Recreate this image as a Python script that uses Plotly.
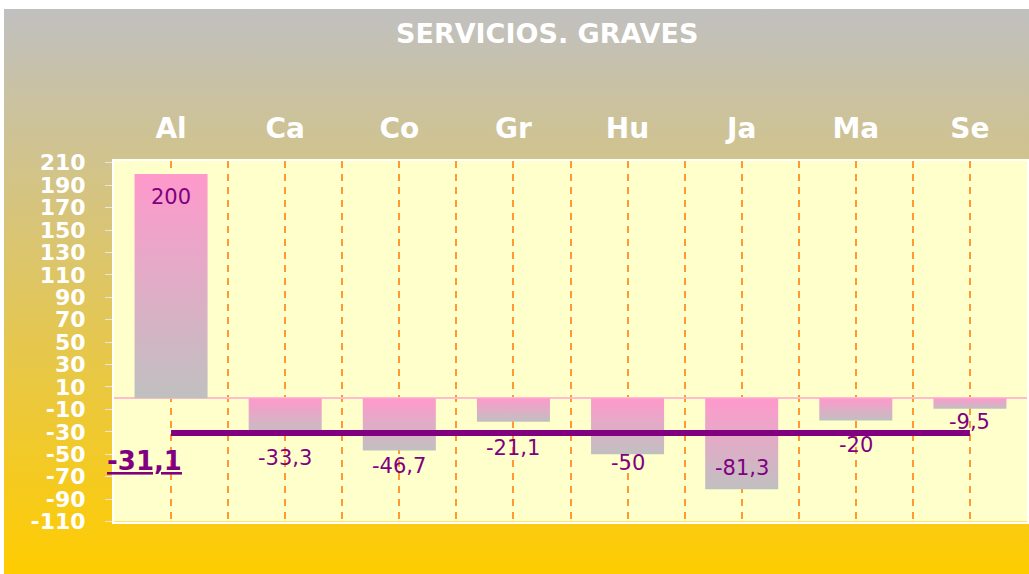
import plotly.graph_objects as go

categories = ["Al", "Ca", "Co", "Gr", "Hu", "Ja", "Ma", "Se"]
values = [200, -33.3, -46.7, -21.1, -50, -81.3, -20, -9.5]
average = -31.1
y_ticks = list(range(-110, 211, 20))
title = "SERVICIOS. GRAVES"

# styling / placement (not data)
label_shift = [-23, -22, -15, -26, -9, 21, -24, -13]
W, H = 1029, 574
FONT = "DejaVu Sans"
PURPLE = "#800080"
PINK = "#FF99CC"
GRAY = "#C0C0C0"
GOLD = "#FFCC00"
GRID = "#FF9933"
BAR_W = 0.64

def fmt(v):
    return f"{v:g}".replace(".", ",")

fig = go.Figure()

# white page, then background gradient panel (decoration on a full-page helper axis)
fig.add_trace(go.Scatter(
    x=[0, W, W, 0, 0], y=[0, 0, H, H, 0], xaxis="x", yaxis="y",
    mode="lines", line=dict(width=0), fill="toself", fillcolor="white",
    hoverinfo="skip", showlegend=False))
fig.add_trace(go.Scatter(
    x=[4, W, W, 4, 4], y=[9, 9, H, H, 9], xaxis="x", yaxis="y",
    mode="lines", line=dict(width=0), fill="toself",
    fillgradient=dict(type="vertical", colorscale=[[0, GOLD], [1, GRAY]]),
    hoverinfo="skip", showlegend=False))

# bars
for i, v in enumerate(values):
    x0, x1 = i - BAR_W / 2, i + BAR_W / 2
    fig.add_trace(go.Scatter(
        x=[x0, x1, x1, x0, x0], y=[0, 0, v, v, 0], xaxis="x2", yaxis="y2",
        mode="lines", line=dict(width=0), fill="toself",
        fillgradient=dict(type="vertical", colorscale=[[0, GRAY], [1, PINK]]),
        hoveron="fills", name=categories[i], showlegend=False))

# average line
fig.add_trace(go.Scatter(
    x=[0, len(categories) - 1], y=[average, average], xaxis="x2", yaxis="y2",
    mode="lines", line=dict(color=PURPLE, width=6), showlegend=False))

annotations = []
for i, v in enumerate(values):
    annotations.append(dict(
        x=i, y=v, xref="x2", yref="y2", text=fmt(v), showarrow=False,
        xanchor="center", yanchor="middle",
        yshift=label_shift[i], font=dict(family=FONT, size=21, color=PURPLE)))

annotations.append(dict(
    x=144 / W, y=average, xref="paper", yref="y2", yshift=-28,
    xanchor="center", yanchor="middle",
    text="<b><u>" + fmt(average) + "</u></b>", showarrow=False,
    font=dict(family=FONT, size=26, color=PURPLE)))

annotations.append(dict(
    x=547 / W, y=1 - 34 / H, xref="paper", yref="paper", text="<b>" + title + "</b>",
    xanchor="center", yanchor="middle",
    showarrow=False, font=dict(family=FONT, size=27, color="white")))

fig.update_layout(
    width=W, height=H, autosize=False,
    margin=dict(l=0, r=0, t=0, b=0, pad=0, autoexpand=False),
    paper_bgcolor="white",
    plot_bgcolor="#FFFFCC",
    showlegend=False,
    annotations=annotations,
    xaxis=dict(domain=[0, 1], range=[0, W], visible=False, fixedrange=True),
    yaxis=dict(domain=[0, 1], range=[H, 0], visible=False, fixedrange=True),
    xaxis2=dict(
        domain=[114 / W, 1027 / W], anchor="y2", range=[-0.5, len(categories) - 0.5],
        side="top", tickmode="array", tickvals=list(range(len(categories))),
        ticktext=["<b>" + c + "</b>" for c in categories],
        tickfont=dict(family=FONT, size=28, color="white"),
        ticks="", ticklabelstandoff=9, automargin=False,
        showgrid=True, gridcolor=GRID, griddash="7px,6px", gridwidth=1.5,
        minor=dict(tickmode="linear", tick0=-0.5, dtick=1, showgrid=True,
                   gridcolor=GRID, griddash="7px,6px", gridwidth=1.5),
        showline=True, linecolor="white", linewidth=2, mirror=True,
        zeroline=False, fixedrange=True),
    yaxis2=dict(
        domain=[1 - 521.5 / H, 1 - 160.5 / H], anchor="x2", range=[-110, 212],
        tickmode="array", tickvals=y_ticks, ticktext=["<b>%d</b>" % t for t in y_ticks],
        tickfont=dict(family=FONT, size=22, color="white"),
        ticks="outside", ticklen=7, tickcolor="#E6E6E6", tickwidth=1,
        ticklabelstandoff=15, automargin=False,
        showgrid=False, zeroline=True, zerolinecolor="#FFBBD0", zerolinewidth=1.5,
        showline=True, linecolor="white", linewidth=2, mirror=True,
        fixedrange=True),
)

fig.write_html(
    "out.html",
    config={"displayModeBar": False, "staticPlot": False},
    post_script="document.body.style.margin='0';document.body.style.padding='0';"
                "document.documentElement.style.overflow='hidden';",
)
